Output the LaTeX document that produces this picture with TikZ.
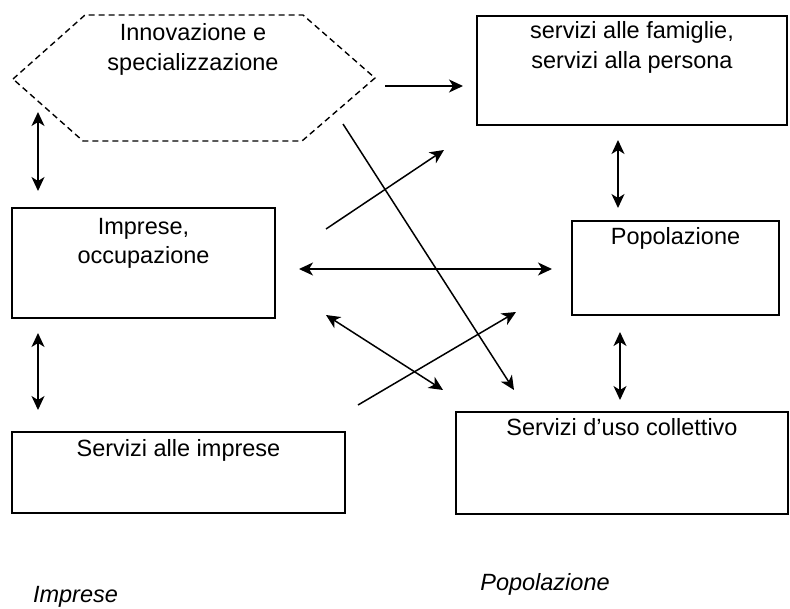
\documentclass[tikz,border=0pt]{standalone}
\usepackage{fontspec}
\setmainfont{Liberation Sans}
\usetikzlibrary{arrows.meta}
\begin{document}
\begin{tikzpicture}[x=1pt,y=-1pt,
  box/.style={draw,line width=1.5pt,inner sep=0pt},
  lbl/.style={anchor=base,inner sep=0pt,font=\fontsize{23.5}{28}\selectfont},
  ilbl/.style={anchor=base,inner sep=0pt,font=\fontsize{23.5}{28}\selectfont\itshape},
  conn/.style={line width=1.5pt},
  one/.style={conn,-{Stealth[length=14pt,width=13pt,inset=4pt]}},
  two/.style={conn,{Stealth[length=14pt,width=13pt,inset=4pt]}-{Stealth[length=14pt,width=13pt,inset=4pt]}}]
\useasboundingbox (0,0) rectangle (790,608);
% hexagon
\draw[line width=1.4pt,dash pattern=on 6pt off 4pt] (13,79) -- (85,15) -- (303,15) -- (375,78) -- (302,141) -- (83,141) -- cycle;
\node[lbl] (hexA) at (193,40) {Innovazione e};
\node[lbl] (hexB) at (193,70) {specializzazione};
% boxes
\node[box,minimum width=310pt,minimum height=109pt] (fam) at (632,70.5) {};
\node[lbl] (famA) at (632,38) {servizi alle famiglie,};
\node[lbl] (famB) at (632,68) {servizi alla persona};
\node[box,minimum width=263pt,minimum height=110pt] (imp) at (143.5,263) {};
\node[lbl] (impA) at (143.5,234) {Imprese,};
\node[lbl] (impB) at (143.5,263) {occupazione};
\node[box,minimum width=333pt,minimum height=81pt] (sim) at (178.5,472.5) {};
\node[lbl] (simA) at (178.5,456) {Servizi alle imprese};
\node[box,minimum width=207pt,minimum height=94pt] (pop) at (675.5,268) {};
\node[lbl] (popA) at (675.5,244) {Popolazione};
\node[box,minimum width=332pt,minimum height=102pt] (col) at (622,463) {};
\node[lbl] (colA) at (622,435) {Servizi d’uso collettivo};
% bottom labels
\node[ilbl] (lImp) at (75.5,602) {Imprese};
\node[ilbl] (lPop) at (545,590) {Popolazione};
% connector ends
\coordinate (a1) at (38,112); \coordinate (a2) at (38,191);
\coordinate (b1) at (38,333); \coordinate (b2) at (38,410);
\coordinate (c1) at (385,86); \coordinate (c2) at (463,86);
\coordinate (d1) at (618,140); \coordinate (d2) at (618,208);
\coordinate (e1) at (620,332); \coordinate (e2) at (620,400);
\coordinate (f1) at (299,269); \coordinate (f2) at (552,269);
\coordinate (g1) at (343,124); \coordinate (g2) at (514,390);
\coordinate (h1) at (326,229); \coordinate (h2) at (444,150);
\coordinate (i1) at (326,315); \coordinate (i2) at (443,390);
\coordinate (j1) at (358,405); \coordinate (j2) at (516,312);
\draw[two] (a1) -- (a2);
\draw[two] (b1) -- (b2);
\draw[one] (c1) -- (c2);
\draw[two] (d1) -- (d2);
\draw[two] (e1) -- (e2);
\draw[two] (f1) -- (f2);
\draw[one] (g1) -- (g2);
\draw[one] (h1) -- (h2);
\draw[two] (i1) -- (i2);
\draw[one] (j1) -- (j2);
\end{tikzpicture}
\end{document}
